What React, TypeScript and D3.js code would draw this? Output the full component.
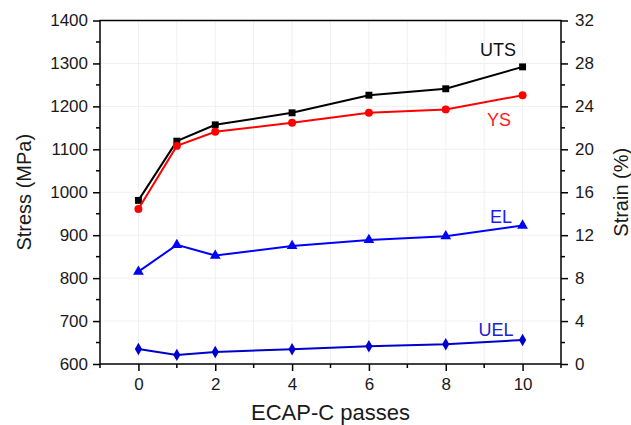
import React, { useRef, useEffect } from "react";
import {
  select,
  line,
  scaleLinear,
  axisBottom,
  axisLeft,
  axisRight,
  range,
  format,
  symbol,
  symbolSquare,
  symbolCircle,
  symbolTriangle,
  symbolDiamond
} from "d3";

// ECAP-C passes
const passes = [0, 1, 2, 4, 6, 8, 10];
// stress (MPa)
const uts = [981, 1119, 1157, 1185, 1226, 1241, 1292];
const ys = [961, 1108, 1141, 1162, 1185, 1193, 1226];
// strain (%)
const el = [8.6, 11.1, 10.1, 11.0, 11.55, 11.9, 12.9];
const uel = [1.4, 0.85, 1.12, 1.37, 1.65, 1.84, 2.24];

const stressTicks = [600, 700, 800, 900, 1000, 1100, 1200, 1300, 1400];
const strainTicks = [0, 4, 8, 12, 16, 20, 24, 28, 32];
const passTicks = [0, 2, 4, 6, 8, 10];

const W = 631;
const H = 425;
const FONT = "Liberation Sans, Arial, sans-serif";

const App = () => {
  const svgRef = useRef(null);

  useEffect(() => {
    const svg = select(svgRef.current);
    svg.selectAll("*").remove();

    const left = 100;
    const right = 561;
    const top = 20.5;
    const bottom = 364;

    const xScale = scaleLinear().domain([-1, 11]).range([left, right]);
    const yStress = scaleLinear().domain([600, 1400]).range([bottom, top]);
    const yStrain = scaleLinear().domain([0, 32]).range([bottom, top]);

    // faint grid
    const grid = svg.append("g").attr("stroke", "#f0f0f0").attr("stroke-width", 1);
    range(0, 11).forEach(v => {
      grid
        .append("line")
        .attr("x1", xScale(v))
        .attr("x2", xScale(v))
        .attr("y1", top)
        .attr("y2", bottom);
    });
    stressTicks.slice(1, -1).forEach(v => {
      grid
        .append("line")
        .attr("x1", left)
        .attr("x2", right)
        .attr("y1", yStress(v))
        .attr("y2", yStress(v));
    });

    // minor ticks
    const minor = svg.append("g").attr("stroke", "#000").attr("stroke-width", 1.5);
    range(-1, 12, 2).forEach(v => {
      minor
        .append("line")
        .attr("x1", xScale(v))
        .attr("x2", xScale(v))
        .attr("y1", bottom)
        .attr("y2", bottom + 4);
    });
    range(650, 1400, 100).forEach(v => {
      minor
        .append("line")
        .attr("x1", left)
        .attr("x2", left - 4)
        .attr("y1", yStress(v))
        .attr("y2", yStress(v));
    });
    range(2, 32, 4).forEach(v => {
      minor
        .append("line")
        .attr("x1", right)
        .attr("x2", right + 4)
        .attr("y1", yStrain(v))
        .attr("y2", yStrain(v));
    });

    // axes
    const fmt = format("d");
    const xAxis = axisBottom(xScale).tickValues(passTicks).tickFormat(fmt).tickSize(7).tickPadding(7);
    const yAxis = axisLeft(yStress).tickValues(stressTicks).tickFormat(fmt).tickSize(7).tickPadding(5);
    const y2Axis = axisRight(yStrain).tickValues(strainTicks).tickFormat(fmt).tickSize(7).tickPadding(7);

    const styleAxis = g => {
      g.select(".domain").remove();
      g.selectAll("line").attr("stroke", "#000").attr("stroke-width", 1.5);
      g.selectAll("text")
        .attr("fill", "#1a1a1a")
        .style("font-family", FONT)
        .style("font-size", "17px");
    };

    svg.append("g").attr("transform", `translate(0,${bottom})`).call(xAxis).call(styleAxis);
    svg.append("g").attr("transform", `translate(${left},0)`).call(yAxis).call(styleAxis);
    svg.append("g").attr("transform", `translate(${right},0)`).call(y2Axis).call(styleAxis);

    // frame
    svg
      .append("rect")
      .attr("x", left)
      .attr("y", top)
      .attr("width", right - left)
      .attr("height", bottom - top)
      .attr("fill", "none")
      .attr("stroke", "#000")
      .attr("stroke-width", 1.5);

    // series
    const series = [
      { values: uts, y: yStress, color: "#000000", sym: symbolSquare, size: 48 },
      { values: ys, y: yStress, color: "#ff0000", sym: symbolCircle, size: 50 },
      { values: el, y: yStrain, color: "#0000ff", sym: symbolTriangle, size: 50 },
      { values: uel, y: yStrain, color: "#0000cc", sym: symbolDiamond, size: 45 }
    ];

    series.forEach(s => {
      const pts = passes.map((p, i) => ({ x: p, y: s.values[i] }));
      const myLine = line()
        .x(d => xScale(d.x))
        .y(d => s.y(d.y));
      svg
        .append("path")
        .attr("d", myLine(pts))
        .attr("fill", "none")
        .attr("stroke", s.color)
        .attr("stroke-width", 2);
      svg
        .selectAll(null)
        .data(pts)
        .join("path")
        .attr("transform", d => `translate(${xScale(d.x)},${s.y(d.y)})`)
        .attr("d", symbol().type(s.sym).size(s.size)())
        .attr("fill", s.color);
    });

    // series labels
    const labels = [
      { text: "UTS", x: 498, y: 56, color: "#111" },
      { text: "YS", x: 499, y: 126, color: "#ff1a1a" },
      { text: "EL", x: 501, y: 223, color: "#1a1aff" },
      { text: "UEL", x: 496, y: 336, color: "#2020cc" }
    ];
    labels.forEach(l => {
      svg
        .append("text")
        .attr("x", l.x)
        .attr("y", l.y)
        .attr("text-anchor", "middle")
        .attr("fill", l.color)
        .style("font-family", FONT)
        .style("font-size", "18px")
        .text(l.text);
    });

    // axis titles
    svg
      .append("text")
      .attr("transform", `translate(31,${(top + bottom) / 2}) rotate(-90)`)
      .attr("text-anchor", "middle")
      .attr("fill", "#1a1a1a")
      .style("font-family", FONT)
      .style("font-size", "20px")
      .text("Stress (MPa)");
    svg
      .append("text")
      .attr("transform", `translate(628,${(top + bottom) / 2}) rotate(-90)`)
      .attr("text-anchor", "middle")
      .attr("fill", "#1a1a1a")
      .style("font-family", FONT)
      .style("font-size", "20px")
      .text("Strain (%)");
    svg
      .append("text")
      .attr("x", (xScale(0) + xScale(10)) / 2)
      .attr("y", 420)
      .attr("text-anchor", "middle")
      .attr("fill", "#1a1a1a")
      .style("font-family", FONT)
      .style("font-size", "22px")
      .text("ECAP-C passes");
  }, []);

  return (
    <svg
      ref={svgRef}
      width={W}
      height={H}
      style={{ position: "absolute", left: 0, top: 0, background: "#fff" }}
    />
  );
};

export default App;
